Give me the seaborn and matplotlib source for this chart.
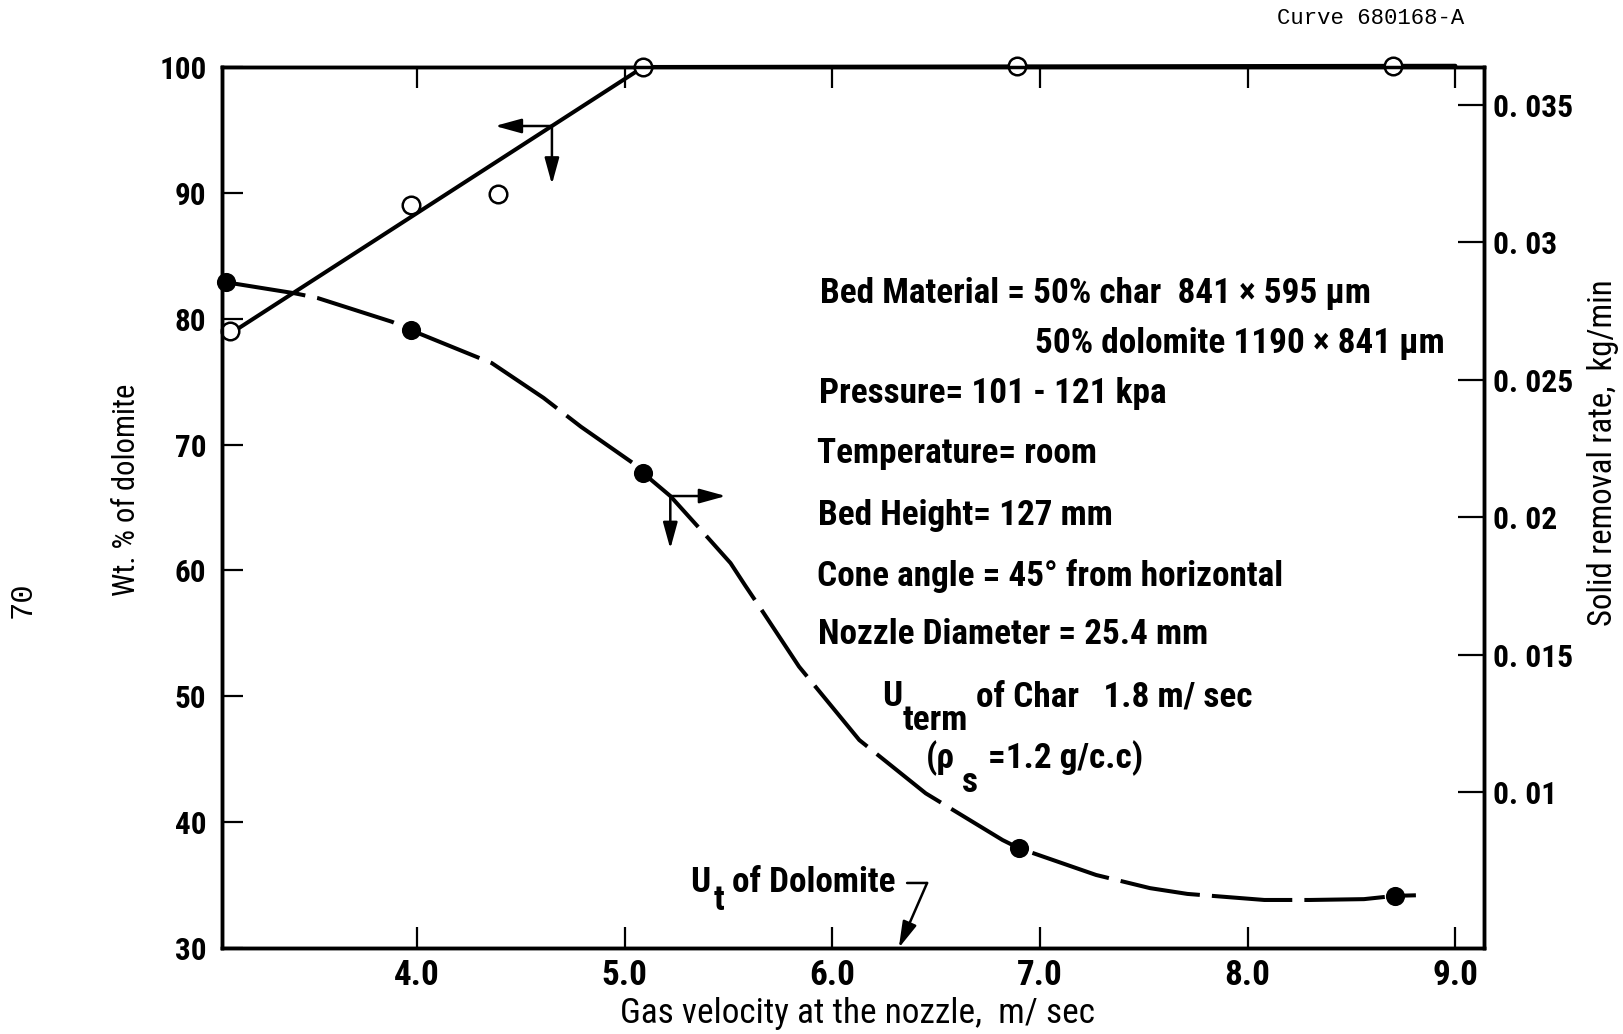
import numpy as np
import matplotlib
matplotlib.use("Agg")
import matplotlib.pyplot as plt
import matplotlib.transforms as mtransforms
from matplotlib import font_manager
from matplotlib.font_manager import FontProperties
import seaborn as sns

# ---------------------------------------------------------------- data
# Wt. % of dolomite in the removed solids (open circles, left axis)
wt_velocity = [3.10, 3.97, 4.39, 5.09, 6.89, 8.70]
wt_dolomite = [79.0, 89.0, 89.9, 100.0, 100.1, 100.1]

# hand-fitted line through the wt. % points
wt_fit_velocity = [3.10, 5.09, 9.00]
wt_fit_dolomite = [78.8, 100.0, 100.1]

# solid removal rate, kg/min (filled circles, right axis)
rate_velocity = [3.08, 3.97, 5.09, 6.90, 8.71]
rate_kg_min = [0.02855, 0.02681, 0.02160, 0.00795, 0.00622]

# hand-drawn dashed curve through the removal-rate points
rate_fit_velocity = [3.08, 3.41, 3.52, 3.88, 3.97, 4.36, 4.61, 4.79, 5.04,
                     5.09, 5.22, 5.38, 5.51, 5.58, 5.66, 5.84, 6.13, 6.45,
                     6.82, 6.90, 7.27, 7.53, 7.71, 8.08, 8.30, 8.56, 8.71,
                     8.81]
rate_fit_kg_min = [0.02855, 0.02815, 0.02798, 0.02711, 0.02681, 0.02561,
                   0.02434, 0.02329, 0.02197, 0.02160, 0.02077, 0.01943,
                   0.01833, 0.01752, 0.01662, 0.01456, 0.01189, 0.00995,
                   0.00825, 0.00795, 0.00698, 0.00650, 0.00629, 0.00607,
                   0.00607, 0.00610, 0.00622, 0.00624]

ut_dolomite = 6.32  # terminal velocity of dolomite, m/s

x_ticks = [4.0, 5.0, 6.0, 7.0, 8.0, 9.0]
x_ticklabels = ["4.0", "5.0", "6.0", "7.0", "8.0", "9.0"]
left_ticks = [30, 40, 50, 60, 70, 80, 90, 100]
left_ticklabels = ["30", "40", "50", "60", "70", "80", "90", "100"]
right_ticks = [0.01, 0.015, 0.02, 0.025, 0.03, 0.035]
right_ticklabels = ["0. 01", "0. 015", "0. 02", "0. 025", "0. 03", "0. 035"]

# ---------------------------------------------------------------- fonts
sns.set_theme(style="white")
plt.rcParams["font.family"] = ["Liberation Sans", "DejaVu Sans"]
for key in ("text.color", "axes.labelcolor", "xtick.color", "ytick.color",
            "axes.edgecolor"):
    plt.rcParams[key] = "black"
plt.rcParams["axes.linewidth"] = 2.5

PREFERRED = ["Liberation Sans Narrow", "Roboto Condensed", "Noto Sans",
             "DejaVu Sans", "Lato", "Open Sans"]
STRETCH_RANK = {"condensed": 0, "semi-condensed": 1, "extra-condensed": 2,
                "ultra-condensed": 3}


def _weight(w):
    if isinstance(w, str):
        return font_manager.weight_dict.get(w, 400)
    return int(w)


def condensed_file(bold):
    """Path of the best condensed sans face installed, or None."""
    want = 700 if bold else 400
    best, best_key = None, None
    for f in font_manager.fontManager.ttflist:
        name = f.name
        if any(s in name for s in ("Mono", "Serif", "CJK", "Symbol")):
            continue
        if f.style != "normal":
            continue
        narrow = ("Narrow" in name or "Condensed" in name
                  or f.stretch in STRETCH_RANK)
        if not narrow:
            continue
        rank = PREFERRED.index(name) if name in PREFERRED else len(PREFERRED)
        key = (rank, STRETCH_RANK.get(f.stretch, 0),
               abs(_weight(f.weight) - want))
        if best_key is None or key < best_key:
            best, best_key = f.fname, key
    return best


def fprop(size, bold=True):
    path = condensed_file(bold)
    if path:
        return FontProperties(fname=path, size=size)
    return FontProperties(family=["Liberation Sans", "DejaVu Sans"],
                          weight="bold" if bold else "normal", size=size)


W, H = 1623, 1034
fig = plt.figure(figsize=(W / 100, H / 100), dpi=100)
fig.patch.set_facecolor("white")
renderer = fig.canvas.get_renderer()


def size_for(txt, width_px, bold=True):
    """Font size at which txt spans width_px pixels."""
    probe = fig.text(0, 0, txt, fontproperties=fprop(20, bold))
    w = probe.get_window_extent(renderer).width
    probe.remove()
    return 20 * width_px / w


note_size = size_for("Temperature= room", 279)
ytick_size = size_for("100", 47)
xtick_size = size_for("8.0", 46)
rtick_size = size_for("0. 035", 80)

ax = fig.add_axes([0.1366, 0.0832, 0.7779, 0.8520])
ax2 = ax.twinx()

ax.set_xlim(3.06, 9.139)
ax.set_ylim(30, 100)
ax2.set_ylim(0.004323, 0.036383)

# ---------------------------------------------------------------- marks
sns.lineplot(x=wt_fit_velocity, y=wt_fit_dolomite, ax=ax, color="black",
             linewidth=2.9, estimator=None, sort=False, clip_on=False, zorder=3)
sns.scatterplot(x=wt_velocity, y=wt_dolomite, ax=ax, marker="o", s=160,
                color="white", edgecolor="black", linewidth=1.8,
                clip_on=False, zorder=6)

sns.lineplot(x=rate_fit_velocity, y=rate_fit_kg_min, ax=ax2, color="black",
             linewidth=2.9, linestyle=(0, (20, 3.0)), estimator=None,
             sort=False, zorder=3)
sns.scatterplot(x=rate_velocity, y=rate_kg_min, ax=ax2, marker="o", s=190,
                color="black", edgecolor="black", linewidth=0,
                clip_on=False, zorder=6)

# ---------------------------------------------------------------- axes
ax.set_xticks(x_ticks)
ax.set_xticklabels(x_ticklabels, fontproperties=fprop(xtick_size))
ax.set_yticks(left_ticks)
ax.set_yticklabels(left_ticklabels, fontproperties=fprop(ytick_size))
ax2.set_yticks(right_ticks)
ax2.set_yticklabels(right_ticklabels, fontproperties=fprop(rtick_size))

ax.tick_params(axis="x", which="both", direction="in", top=True, bottom=True,
               length=15, width=1.6, pad=8, colors="black")
ax.tick_params(axis="y", which="both", direction="in", left=True, right=False,
               length=15, width=1.6, pad=11, colors="black")
ax2.tick_params(axis="y", which="both", direction="in", left=False, right=True,
                length=19, width=1.6, pad=6, colors="black")

for a in (ax, ax2):
    for sp in a.spines.values():
        sp.set_visible(True)
        sp.set_linewidth(2.5)
        sp.set_color("black")
    a.grid(False)

ax.set_xlabel("Gas velocity at the nozzle,  m/ sec",
              fontproperties=fprop(size_for("Gas velocity at the nozzle,  m/ sec",
                                            473, False), False),
              va="center", color="black")
ax.xaxis.set_label_coords(0.5036, -0.0749)
ax.set_ylabel("Wt. % of dolomite",
              fontproperties=fprop(size_for("Wt. % of dolomite", 212, False),
                                   False),
              va="center", color="black")
ax.yaxis.set_label_coords(-0.0758, 0.52)
ax2.set_ylabel("Solid removal rate,  kg/min",
               fontproperties=fprop(size_for("Solid removal rate,  kg/min",
                                             346, False), False),
               va="center", rotation=90, color="black")
ax2.yaxis.set_label_coords(1.094, 0.562)

# ---------------------------------------------------------------- pointers
head = "head_length=0.8,head_width=0.22"


def pointer(axis, x0, y0, dx, dy):
    axis.annotate("", xy=(x0, y0), xytext=(dx, dy), textcoords="offset points",
                  arrowprops=dict(arrowstyle="<|-," + head, color="black",
                                  lw=1.8, shrinkA=0, shrinkB=0,
                                  mutation_scale=20),
                  annotation_clip=False, zorder=4)


# wt. % line reads against the left axis
jx = 4.65
jy = float(np.interp(jx, wt_fit_velocity, wt_fit_dolomite))
pointer(ax, jx, jy, -41, 0)
pointer(ax, jx, jy, 0, -42)

# removal-rate curve reads against the right axis
kx = 5.22
ky = float(np.interp(kx, rate_fit_velocity, rate_fit_kg_min))
pointer(ax2, kx, ky, 40, 0)
pointer(ax2, kx, ky, 0, -38)

# U_t of dolomite leader down to the velocity axis
ax.annotate("", xy=(ut_dolomite, 30), xytext=(20.4, 46.8),
            textcoords="offset points",
            arrowprops=dict(arrowstyle="-|>," + head, color="black", lw=1.8,
                            shrinkA=0, shrinkB=0, mutation_scale=20),
            annotation_clip=False)
bar_origin = mtransforms.offset_copy(ax.transData, fig=fig, x=20.4, y=46.8,
                                     units="points")
ax.annotate("", xy=(ut_dolomite, 30), xycoords=bar_origin, xytext=(-14.4, 0),
            textcoords="offset points",
            arrowprops=dict(arrowstyle="-", color="black", lw=1.8,
                            shrinkA=0, shrinkB=0),
            annotation_clip=False)

# ---------------------------------------------------------------- notes


def note(txt, px, py):
    return fig.text(px / W, 1 - py / H, txt, ha="left", va="center",
                    fontproperties=fprop(note_size), color="black")


note("Bed Material = 50% char  841 × 595 µm", 820, 293)
note("50% dolomite 1190 × 841 µm", 1035, 343)
note("Pressure= 101 - 121 kpa", 819, 394)
note("Temperature= room", 817, 453)
note("Bed Height= 127 mm", 818, 515)
note("Cone angle = 45° from horizontal", 817, 576)
note("Nozzle Diameter = 25.4 mm", 818, 635)
note("U", 882, 697)
note("term", 903, 720)
note("of Char   1.8 m/ sec", 976, 697)
note("(ρ", 926, 758)
note("s", 962, 783)
note("=1.2 g/c.c)", 988, 758)
note("U", 690, 882)
note("t", 714, 900)
note("of Dolomite", 732, 882)

mono_family = ["Liberation Mono", "DejaVu Sans Mono"]
fig.text(1276.8 / W, 1 - 18.3 / H, "Curve 680168-A", ha="left", va="center",
         fontproperties=FontProperties(family=mono_family, size=16),
         color="black")
fig.text(23 / W, 1 - 600 / H, "70", ha="center", va="center", rotation=90,
         fontproperties=FontProperties(family=mono_family, size=22),
         color="black")

fig.savefig("out.png", dpi=100, facecolor="white")
